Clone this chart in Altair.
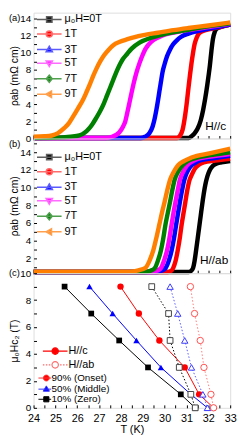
import altair as alt
import pandas as pd

FONT = "Liberation Sans"
W = 200
HA, HB, HC = 128, 137, 137

# ---------------- data ----------------
series = ["μ₀H=0T", "1T", "3T", "5T", "7T", "9T"]
series_colors = ["#000000", "#ff0000", "#0000ff", "#ff00ff", "#008000", "#ff8000"]
series_line_colors = ["#5e5e5e", "#ff6a6a", "#5a5aff", "#ff6aff", "#4f9f4f", "#ffa04f"]

x_ticks = [24, 24.5, 25, 25.5, 26, 26.5, 27, 27.5, 28, 28.5, 29, 29.5, 30, 30.5,
           31, 31.5, 32, 32.5, 33]
ya_ticks = [0, 1, 2, 3, 4, 5, 6, 7, 8, 9, 10, 11, 12, 13, 14]
yb_ticks = [1, 2, 3, 4, 5, 6, 7, 8, 9, 10, 11, 12, 13, 14, 15]
yc_ticks = [0, 1, 2, 3, 4, 5, 6, 7, 8, 9, 10]

# panel (a): H // c
Ta0 = [24.0, 31.1, 31.25, 31.37, 31.5, 31.65, 31.76, 31.86, 31.95, 32.02, 32.07, 32.14, 32.21, 32.3, 32.4, 32.6, 33.0]
Ra0 = [0.05, 0.05, 0.3, 0.6, 1.1, 2.1, 3.3, 4.7, 6.2, 7.5, 8.5, 10.2, 11.6, 12.5, 12.85, 13.05, 13.3]
Ta1 = [24.0, 30.55, 30.7, 30.82, 30.95, 31.02, 31.09, 31.16, 31.23, 31.3, 31.37, 31.47, 31.58, 31.79, 32.2, 32.6, 33.0]
Ra1 = [0.05, 0.05, 0.3, 1.0, 2.9, 4.3, 5.9, 7.4, 8.8, 10.0, 11.0, 11.8, 12.3, 12.6, 12.85, 13.05, 13.3]
Ta3 = [24.0, 28.9, 29.1, 29.3, 29.45, 29.55, 29.62, 29.7, 29.76, 29.83, 29.9, 30.0, 30.11, 30.25, 30.39, 30.57, 30.74, 31.09, 31.6, 32.2, 33.0]
Ra3 = [0.05, 0.05, 0.2, 0.6, 1.4, 2.4, 3.3, 4.5, 5.5, 6.6, 7.7, 8.7, 9.6, 10.4, 11.0, 11.5, 11.85, 12.25, 12.6, 12.9, 13.3]
Ta5 = [24.0, 27.3, 27.6, 27.92, 28.1, 28.2, 28.29, 28.4, 28.5, 28.57, 28.7, 28.85, 29.0, 29.13, 29.41, 29.7, 29.97, 30.5, 31.2, 32.0, 33.0]
Ra5 = [0.05, 0.05, 0.2, 0.7, 1.4, 2.0, 3.0, 4.3, 5.5, 6.3, 7.6, 8.8, 9.8, 10.5, 11.35, 11.8, 12.1, 12.4, 12.7, 13.0, 13.4]
Ta7 = [24.0, 25.1, 25.7, 26.1, 26.35, 26.52, 26.7, 26.87, 27.05, 27.22, 27.36, 27.5, 27.64, 27.78, 27.92, 28.07, 28.29, 28.49, 28.85, 29.25, 29.69, 30.4, 31.2, 32.0, 33.0]
Ra7 = [0.05, 0.1, 0.2, 0.35, 0.7, 1.1, 1.7, 2.4, 3.2, 4.1, 5.0, 5.9, 6.8, 7.7, 8.5, 9.2, 9.9, 10.5, 11.2, 11.65, 12.0, 12.4, 12.75, 13.1, 13.45]
Ta9 = [24.0, 24.5, 24.84, 25.1, 25.4, 25.62, 25.82, 26.03, 26.24, 26.42, 26.59, 26.73, 26.87, 27.05, 27.22, 27.45, 27.65, 27.95, 28.3, 28.63, 29.1, 29.69, 30.4, 31.09, 32.0, 33.0]
Ra9 = [0.2, 0.25, 0.35, 0.6, 1.2, 1.8, 2.6, 3.5, 4.4, 5.4, 6.4, 7.3, 8.1, 9.0, 9.7, 10.4, 10.9, 11.3, 11.6, 11.85, 12.1, 12.35, 12.65, 12.9, 13.2, 13.55]

# panel (b): H // ab
Tb0 = [24.0, 31.1, 31.22, 31.3, 31.37, 31.44, 31.51, 31.58, 31.65, 31.72, 31.79, 31.86, 31.96, 32.07, 32.2, 32.36, 32.6, 33.0]
Rb0 = [0.45, 0.45, 0.6, 0.9, 1.7, 2.9, 4.2, 5.5, 6.8, 8.1, 9.3, 10.3, 11.3, 12.0, 12.45, 12.7, 12.85, 13.0]
Tb1 = [24.0, 30.15, 30.3, 30.39, 30.5, 30.6, 30.7, 30.78, 30.87, 30.95, 31.03, 31.12, 31.25, 31.37, 31.55, 31.79, 32.3, 33.0]
Rb1 = [0.45, 0.45, 0.6, 0.9, 1.7, 2.9, 4.4, 5.85, 7.2, 8.4, 9.6, 10.7, 11.5, 12.1, 12.55, 12.85, 13.05, 13.25]
Tb3 = [24.0, 29.65, 29.85, 30.04, 30.2, 30.32, 30.43, 30.53, 30.62, 30.7, 30.79, 30.88, 31.0, 31.16, 31.4, 31.65, 32.3, 33.0]
Rb3 = [0.45, 0.45, 0.6, 0.9, 1.8, 2.9, 4.3, 5.85, 7.2, 8.4, 9.6, 10.7, 11.6, 12.3, 12.8, 13.1, 13.35, 13.6]
Tb5 = [24.0, 29.45, 29.65, 29.83, 29.98, 30.11, 30.22, 30.32, 30.41, 30.5, 30.6, 30.7, 30.85, 31.02, 31.25, 31.51, 32.2, 33.0]
Rb5 = [0.45, 0.45, 0.6, 0.9, 1.8, 2.9, 4.3, 5.85, 7.2, 8.4, 9.7, 10.9, 11.8, 12.5, 12.95, 13.25, 13.55, 13.8]
Tb7 = [24.0, 29.1, 29.35, 29.55, 29.7, 29.83, 29.94, 30.04, 30.15, 30.25, 30.35, 30.46, 30.62, 30.81, 31.05, 31.37, 32.2, 33.0]
Rb7 = [0.45, 0.45, 0.6, 0.9, 1.8, 2.9, 4.3, 5.85, 7.2, 8.4, 9.7, 10.9, 11.8, 12.5, 13.0, 13.3, 13.7, 14.0]
Tb9 = [24.0, 28.4, 28.8, 29.13, 29.32, 29.48, 29.62, 29.76, 29.88, 30.0, 30.12, 30.25, 30.42, 30.6, 30.88, 31.23, 32.1, 33.0]
Rb9 = [0.5, 0.5, 0.65, 0.95, 1.8, 2.9, 4.3, 5.85, 7.2, 8.4, 9.7, 10.9, 11.8, 12.5, 13.0, 13.4, 13.9, 14.4]

# panel (c): upper critical field
H_vals = [9, 7, 5, 3, 1, 0]
T_c_onset = [27.98, 28.82, 29.76, 30.92, 31.58, 32.24]
T_c_middle = [26.56, 27.62, 28.71, 29.83, 31.2, 31.96]
T_c_zero = [25.42, 26.64, 27.92, 29.24, 30.74, 31.4]
T_ab_onset = [31.18, 31.37, 31.63, 31.8, 32.12, 32.24]
T_ab_middle = [30.25, 30.6, 30.92, 31.23, 31.75, 31.96]
T_ab_zero = [29.41, 30.18, 30.25, 30.67, 31.2, 31.4]

orient_names = ["H//c", "H//ab"]
type_names = ["90% (Onset)", "50% (Middle)", "10% (Zero)"]

# ---------------- legend symbols (line + marker paths) ----------------
sq = "M-0.55,-0.55H0.55V0.55H-0.55Z"
circ = "M-0.62,0A0.62,0.62,0,1,0,0.62,0A0.62,0.62,0,1,0,-0.62,0Z"
tri_up = "M0,-0.68L0.64,0.45H-0.64Z"
tri_dn = "M0,0.68L0.64,-0.45H-0.64Z"
diam = "M0,-0.72L0.6,0L0,0.72L-0.6,0Z"
tri_l = "M-0.68,0L0.45,-0.64V0.64Z"
seg = "M-2.5,0H2.5"
series_paths = [seg + m for m in [sq, circ, tri_up, tri_dn, diam, tri_l]]

c_circ = "M-0.65,0A0.65,0.65,0,1,0,0.65,0A0.65,0.65,0,1,0,-0.65,0Z"
dots = "M-2.5,0H-2.2M-1.9,0H-1.6M-1.3,0H-1.0M1.0,0H1.3M1.6,0H1.9M2.2,0H2.5"
orient_paths = ["M-2.5,0H2.5" + c_circ, dots + c_circ]

segB = "M-2.3,0H1.4"
type_paths = [segB + "M-0.85,0A0.85,0.85,0,1,0,0.85,0A0.85,0.85,0,1,0,-0.85,0Z",
              segB + "M0,-0.95L0.9,0.6H-0.9Z",
              segB + "M-0.75,-0.75H0.75V0.75H-0.75Z"]


# ---------------- helpers ----------------
def common_axis(**kw):
    base = dict(tickSize={"expr": "-3"}, domain=False, grid=False, tickColor="black",
                labelColor="black", titleColor="black", labelFont=FONT, titleFont=FONT,
                titleFontWeight="normal", labelOverlap=False)
    base.update(kw)
    return alt.Axis(**base)


def y_axis(values, title):
    return common_axis(values=values,
                       labelExpr="datum.value % 2 == 0 ? format(datum.value, 'd') : ''",
                       title=title, titleX=-19.75, titleBaseline="middle", labelPadding=6,
                       labelFontSize=10, titleFontSize=10.5, labelFlush=False)


def x_axis(show):
    if show:
        return common_axis(values=x_ticks,
                           labelExpr="datum.value % 1 == 0 ? format(datum.value, 'd') : ''",
                           title="T (K)", labelPadding=8, labelFontSize=11, titleFontSize=11,
                           titlePadding=0, labelFlush=False)
    return common_axis(values=x_ticks, labels=False, title=None)


def text_layer(txt, x, y, size, align, baseline):
    return alt.Chart(alt.Data(values=[{"t": txt}])).mark_text(
        align=align, baseline=baseline, font=FONT, fontSize=size, color="black"
    ).encode(x=alt.value(x), y=alt.value(y), text="t:N")


def rho_panel(Ts, Rs, height, ydomain, yticks, legend_y, note, note_x, note_y, tag, tag_y):
    rows = []
    for name, T, R in zip(series, Ts, Rs):
        for t, r in zip(T, R):
            rows.append({"series": name, "T": t, "rho": r})
    df = pd.DataFrame(rows)
    x = alt.X("T:Q", scale=alt.Scale(domain=[24, 33], nice=False, zero=False), axis=x_axis(False))
    y = alt.Y("rho:Q", scale=alt.Scale(domain=ydomain, nice=False, zero=False),
              axis=y_axis(yticks, "ρab (mΩ cm)"))
    layers = []
    for name, col in zip(series, series_colors):
        layers.append(
            alt.Chart(df).transform_filter(alt.datum.series == name)
            .mark_line(color=col, strokeWidth=4.5, interpolate="monotone")
            .encode(x=x, y=y)
        )
    leg = alt.Legend(orient="none", legendX=10, legendY=legend_y, title=None, padding=0,
                     symbolSize=100, symbolStrokeWidth=1.5, labelFont=FONT, labelFontSize=11,
                     labelColor="black", labelOffset=9.5, rowPadding=1.8, symbolOffset=0)
    dummy = alt.Chart(df).transform_filter("false").mark_point(size=100, strokeWidth=1.5, opacity=1).encode(
        shape=alt.Shape("series:N", scale=alt.Scale(domain=series, range=series_paths), legend=leg),
        fill=alt.Fill("series:N", scale=alt.Scale(domain=series, range=series_colors), legend=leg),
        stroke=alt.Stroke("series:N", scale=alt.Scale(domain=series, range=series_line_colors), legend=leg),
    )
    layers.append(dummy)
    layers.append(text_layer(note, note_x, note_y, 12, "right", "middle"))
    layers.append(text_layer(tag, -25, tag_y, 9.5, "left", "middle"))
    return alt.layer(*layers).properties(width=W, height=height)


panel_a = rho_panel([Ta0, Ta1, Ta3, Ta5, Ta7, Ta9], [Ra0, Ra1, Ra3, Ra5, Ra7, Ra9], HA,
                    [0, 14.7], ya_ticks, 1, "H//c", W - 4, HA - 13, "(a)", 5)
panel_b = rho_panel([Tb0, Tb1, Tb3, Tb5, Tb7, Tb9], [Rb0, Rb1, Rb3, Rb5, Rb7, Rb9], HB,
                    [0.33, 15.56], yb_ticks, 13, "H//ab", W - 2, HB - 13, "(b)", 6)

# panel (c)
curves = [
    ("c_zero", T_c_zero, "#000000", None, "square", True, "#000000", 34),
    ("c_middle", T_c_middle, "#0000ff", None, "triangle-up", True, "#0000ff", 42),
    ("c_onset", T_c_onset, "#ff0000", None, "circle", True, "#ff0000", 42),
    ("ab_zero", T_ab_zero, "#000000", [1.5, 2], "square", False, "#444444", 34),
    ("ab_middle", T_ab_middle, "#5a5aff", [1.5, 2], "triangle-up", False, "#3a3aff", 42),
    ("ab_onset", T_ab_onset, "#ff7a7a", [1.5, 2], "circle", False, "#ff5050", 42),
]
rows_c = []
for cname, Tl, *_ in curves:
    for h, t in zip(H_vals, Tl):
        rows_c.append({"curve": cname, "H": h, "T": t})
df_c = pd.DataFrame(rows_c)

xc = alt.X("T:Q", scale=alt.Scale(domain=[24, 33], nice=False, zero=False), axis=x_axis(True))
yc = alt.Y("H:Q", scale=alt.Scale(domain=[0, 10], nice=False, zero=False),
           axis=y_axis(yc_ticks, "μ₀Hc₂ (T)"))

c_layers = []
for cname, Tl, lcol, dash, shp, filled, mcol, msize in curves:
    line_kw = dict(color=lcol, strokeWidth=1)
    if dash is not None:
        line_kw["strokeDash"] = dash
    c_layers.append(
        alt.Chart(df_c).transform_filter(alt.datum.curve == cname)
        .mark_line(**line_kw)
        .encode(x=xc, y=yc, order=alt.Order("H:Q", sort="descending"))
    )
for cname, Tl, lcol, dash, shp, filled, mcol, msize in curves:
    pt_kw = dict(shape=shp, filled=filled, color=mcol, size=msize, opacity=1, strokeWidth=1)
    if not filled:
        pt_kw["fill"] = "white"
    c_layers.append(
        alt.Chart(df_c).transform_filter(alt.datum.curve == cname)
        .mark_point(**pt_kw)
        .encode(x=xc, y=yc)
    )

legA = alt.Legend(orient="none", legendX=16, legendY=73.3, title=None, padding=0,
                  symbolSize=100, symbolStrokeWidth=1.2, labelFont=FONT, labelFontSize=11,
                  labelColor="black", labelOffset=7.5, rowPadding=2, symbolOffset=0)
dummyA = alt.Chart(df_c).transform_filter("false").mark_point(size=100, strokeWidth=1.2, opacity=1).encode(
    shape=alt.Shape("orient:N", scale=alt.Scale(domain=orient_names, range=orient_paths), legend=legA),
    fill=alt.Fill("orient:N", scale=alt.Scale(domain=orient_names, range=["#ff0000", "#ffffff"]), legend=legA),
    stroke=alt.Stroke("orient:N", scale=alt.Scale(domain=orient_names, range=["#ff0000", "#ff6a6a"]), legend=legA),
)
legB = alt.Legend(orient="none", legendX=8, legendY=101.7, title=None, padding=0,
                  symbolSize=49, symbolStrokeWidth=1, labelFont=FONT, labelFontSize=10,
                  labelColor="black", labelOffset=0.3, rowPadding=0.3, symbolOffset=0)
dummyB = alt.Chart(df_c).transform_filter("false").mark_point(size=49, strokeWidth=1, opacity=1).encode(
    shape=alt.Shape("type:N", scale=alt.Scale(domain=type_names, range=type_paths), legend=legB),
    fill=alt.Fill("type:N", scale=alt.Scale(domain=type_names, range=["#ff0000", "#0000ff", "#000000"]), legend=legB),
    stroke=alt.Stroke("type:N", scale=alt.Scale(domain=type_names, range=["#ff3030", "#3030ff", "#000000"]), legend=legB),
)
c_layers += [dummyA, dummyB, text_layer("(c)", -25, 0, 9.5, "left", "middle")]

panel_c = alt.layer(*c_layers).resolve_scale(
    shape="independent", fill="independent", stroke="independent"
).properties(width=W, height=HC)

chart = alt.vconcat(panel_a, panel_b, panel_c, spacing=0, bounds="flush").resolve_scale(
    shape="independent", fill="independent", stroke="independent", color="independent"
).properties(padding=0).configure_view(stroke="black", strokeWidth=1).configure(background="white")

chart.save("out.html", embed_options={"renderer": "svg", "actions": False})
